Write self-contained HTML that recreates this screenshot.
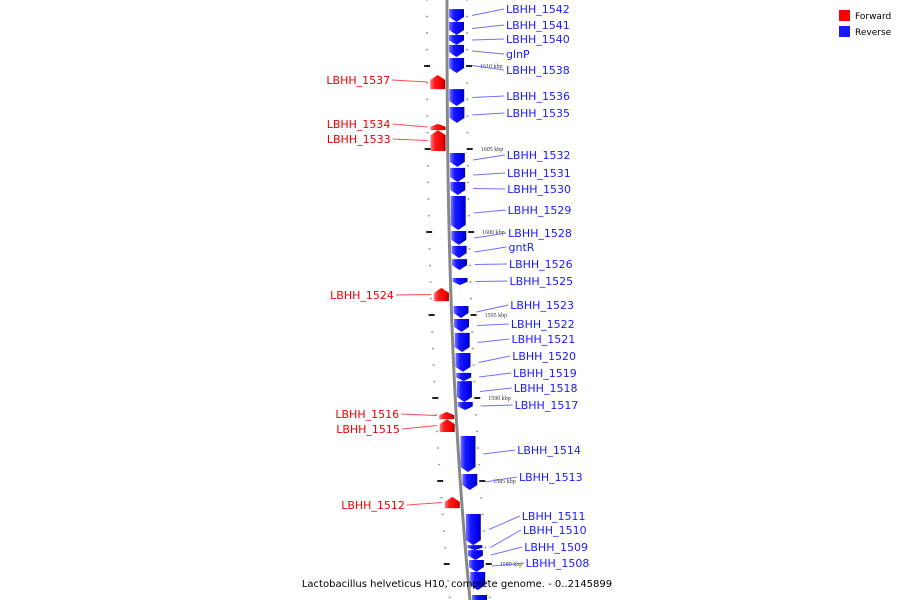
<!DOCTYPE html>
<html><head><meta charset="utf-8"><style>
html,body{margin:0;padding:0;background:#fff}
svg{display:block;font-family:"DejaVu Sans","Liberation Sans",sans-serif}
</style></head><body>
<svg id="map" width="900" height="600" viewBox="0 0 900 600">
<defs>
<linearGradient id="gb" x1="0" x2="1" y1="0" y2="0"><stop offset="0" stop-color="#7878ff"/><stop offset="0.3" stop-color="#1a1aff"/><stop offset="0.8" stop-color="#0000ee"/><stop offset="1" stop-color="#0000a0"/></linearGradient>
<linearGradient id="gr" x1="0" x2="1" y1="0" y2="0"><stop offset="0" stop-color="#ff7878"/><stop offset="0.3" stop-color="#ff1a1a"/><stop offset="0.8" stop-color="#ee0000"/><stop offset="1" stop-color="#a00000"/></linearGradient>
<linearGradient id="bb" x1="0" x2="1"><stop offset="0" stop-color="#ccc"/><stop offset="0.5" stop-color="#777"/><stop offset="1" stop-color="#bbb"/></linearGradient>
</defs>
<g id="ticks"></g>
<path id="backbone" fill="none" stroke="#888" stroke-width="3"/>
<g id="genes"></g>
<g>
<rect x="839" y="10" width="11" height="11" fill="#f00"/>
<text x="855" y="19" font-size="9">Forward</text>
<rect x="839" y="26" width="11" height="11" fill="#1a1aff"/>
<text x="855" y="35" font-size="9">Reverse</text>
</g>
<text x="457" y="587" font-size="10" text-anchor="middle">Lactobacillus helveticus H10, complete genome. - 0..2145899</text>
</svg>
<script>
const geneNames=["LBHH_1542","LBHH_1541","LBHH_1540","glnP","LBHH_1538","LBHH_1537","LBHH_1536","LBHH_1535","LBHH_1534","LBHH_1533","LBHH_1532","LBHH_1531","LBHH_1530","LBHH_1529","LBHH_1528","gntR","LBHH_1526","LBHH_1525","LBHH_1524","LBHH_1523","LBHH_1522","LBHH_1521","LBHH_1520","LBHH_1519","LBHH_1518","LBHH_1517","LBHH_1516","LBHH_1515","LBHH_1514","LBHH_1513","LBHH_1512","LBHH_1511","LBHH_1510","LBHH_1509","LBHH_1508","","" ];
const geneStart=[1613.43,1612.65,1611.87,1611.27,1610.48,1609.46,1608.61,1607.53,1606.51,1606.14,1604.76,1603.86,1603.01,1602.17,1600.06,1599.16,1598.37,1597.23,1596.63,1595.54,1594.76,1593.92,1592.71,1591.51,1591.02,1589.76,1589.16,1588.73,1587.71,1585.42,1584.04,1583.01,1581.14,1580.84,1580.24,1579.52,1578.13];
const geneEnd=[1612.65,1611.87,1611.27,1610.54,1609.58,1608.61,1607.59,1606.57,1606.14,1604.88,1603.92,1603.01,1602.23,1600.12,1599.22,1598.43,1597.71,1596.81,1595.84,1594.82,1593.98,1592.77,1591.57,1591.02,1589.76,1589.28,1588.73,1587.95,1585.54,1584.46,1583.37,1581.14,1580.84,1580.24,1579.52,1578.43,1577.5];
const geneStrand=[-1,-1,-1,-1,-1,1,-1,-1,1,1,-1,-1,-1,-1,-1,-1,-1,-1,1,-1,-1,-1,-1,-1,-1,-1,1,1,-1,-1,1,-1,-1,-1,-1,-1,-1];
const labelY=[9,25,39,54,70,80,96,113,124,139,155,173,189,210,233,247,264,281,295,305,324,339,356,373,388,405,414,429,450,477,505,516,530,547,563,0,0];
const majorTicks=[1610,1605,1600,1595,1590,1585,1580];
const minorTicks=[1614,1613,1612,1611,1609,1608,1607,1606,1604,1603,1602,1601,1599,1598,1597,1596,1594,1593,1592,1591,1589,1588,1587,1586,1584,1583,1582,1581,1579,1578];

const NS="http://www.w3.org/2000/svg";
function yScale(k){return 66+(1610-k)*16.6;}
function bx(y){const t=Math.max(0,y)/600;return 447+23*Math.pow(t,2.5);}
function mk(tag,attrs,parent){const e=document.createElementNS(NS,tag);for(const k in attrs)e.setAttribute(k,attrs[k]);parent.appendChild(e);return e;}

let d="";for(let y=-5;y<=605;y+=5){d+=(y===-5?"M":"L")+bx(y).toFixed(2)+","+y;}
document.getElementById("backbone").setAttribute("d",d);

const tg=document.getElementById("ticks");
minorTicks.forEach(k=>{const y=yScale(k);
 const a=mk("rect",{x:bx(y)-21,y:y-0.5,width:2,height:1.5,fill:"#999"},tg);
 
 
 const b=mk("rect",{x:bx(y)+19,y:y-0.5,width:2,height:1.5,fill:"#999"},tg);
 
 
});
majorTicks.forEach(k=>{const y=yScale(k);
 const a=mk("rect",{x:bx(y)-23,y:y-1,width:6,height:2,fill:"#222"},tg);
 
 
 const b=mk("rect",{x:bx(y)+19,y:y-1,width:6,height:2,fill:"#222"},tg);
 
 
 const t=mk("text",{x:bx(y)+33,y:y+2,"font-size":"6","font-family":"Liberation Serif,serif",fill:"#333"},tg);
 t.textContent=k+" kbp";
 
 
});

const gg=document.getElementById("genes");
geneNames.forEach((n,i)=>{
 const y1=yScale(geneStart[i]),y2=yScale(geneEnd[i]);
 const h=y2-y1, ym=(y1+y2)/2, b=bx(ym);
 const p=Math.min(5,h*0.45);
 let pts;
 if(geneStrand[i]<0){const x0=b+2,x1=b+17;
  pts=[[x0,y1],[x1,y1],[x1,y2-p],[(x0+x1)/2,y2],[x0,y2-p]];}
 else{const x0=b-17,x1=b-2;
  pts=[[x0,y1+p],[(x0+x1)/2,y1],[x1,y1+p],[x1,y2],[x0,y2]];}
 const g=mk("polygon",{points:pts.map(q=>q[0].toFixed(1)+","+q[1].toFixed(1)).join(" "),fill:geneStrand[i]<0?"url(#gb)":"url(#gr)"},gg);
 
 
 if(!n)return;
 const ly=labelY[i], lb=bx(ly);
 if(geneStrand[i]<0){
  const ln=mk("line",{x1:b+25,y1:ym,x2:lb+57,y2:ly,stroke:"#7070ff","stroke-width":"1"},gg);
  
  
  const t=mk("text",{x:lb+59,y:ly+4,"font-size":"11",fill:"#1a1aff"},gg);
  t.textContent=n;
  
  
 } else {
  const ln=mk("line",{x1:lb-55,y1:ly,x2:b-20,y2:ym,stroke:"#ff5050","stroke-width":"1"},gg);
  
  
  const t=mk("text",{x:lb-57,y:ly+4,"font-size":"11",fill:"#ee0000","text-anchor":"end"},gg);
  t.textContent=n;
  
  
 }
});
</script>
</body></html>
